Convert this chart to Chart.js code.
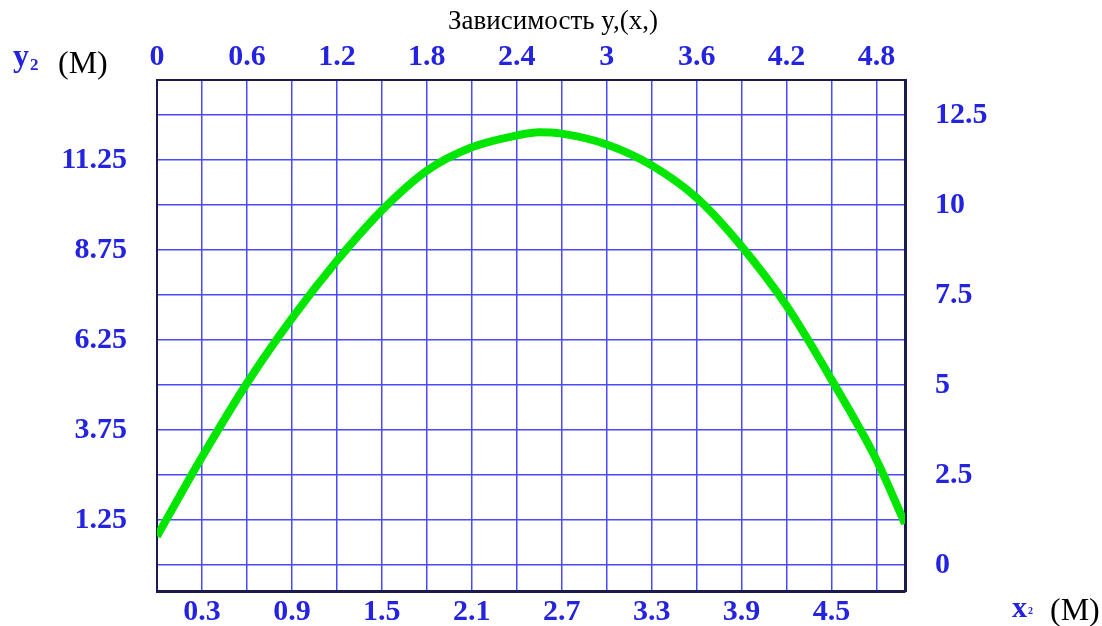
<!DOCTYPE html>
<html>
<head>
<meta charset="utf-8">
<script src="https://cdn.jsdelivr.net/npm/chart.js@4"></script>
<style>
  html, body { margin: 0; padding: 0; background: #ffffff; }
  #wrap { width: 1102px; height: 626px; position: relative; }
</style>
</head>
<body>
<div id="wrap"><canvas id="c"></canvas></div>
<script>
// ---- data ----
const xValues = [0, 0.3, 0.6, 0.9, 1.2, 1.5, 1.8, 2.1, 2.4, 2.55, 2.7, 3.0, 3.3, 3.6, 3.9, 4.2, 4.5, 4.8, 4.99];
const yValues = [0.8, 3.0, 5.05, 6.85, 8.45, 9.85, 10.95, 11.6, 11.93, 12.02, 11.98, 11.68, 11.1, 10.2, 8.85, 7.2, 5.15, 2.92, 1.15];

const xGridTicks   = [0, 0.3, 0.6, 0.9, 1.2, 1.5, 1.8, 2.1, 2.4, 2.7, 3.0, 3.3, 3.6, 3.9, 4.2, 4.5, 4.8];
const xBottomLabels = [0.3, 0.9, 1.5, 2.1, 2.7, 3.3, 3.9, 4.5];
const xTopLabels    = [0, 0.6, 1.2, 1.8, 2.4, 3, 3.6, 4.2, 4.8];
const yGridTicks   = [0, 1.25, 2.5, 3.75, 5, 6.25, 7.5, 8.75, 10, 11.25, 12.5];
const yLeftLabels  = [1.25, 3.75, 6.25, 8.75, 11.25];
const yRightLabels = [0, 2.5, 5, 7.5, 10, 12.5];

const titleText = 'Зависимость y,(x,)';
const yAxisName = 'y';
const yAxisSub = '2';
const xAxisName = 'x';
const xAxisSub = '2';
const unitText = '(M)';

// ---- styling ----
const tickBlue = '#2323e0';
const gridBlue = '#4a4aff';
const borderDark = '#1b1b4d';
const tickFont = { family: '"Liberation Serif", serif', size: 30, weight: 'bold' };

const points = xValues.map((x, i) => ({ x: x, y: yValues[i] }));

function setTicks(list) {
  return function (scale) { scale.ticks = list.map(v => ({ value: v })); };
}
function fixSize(prop, size) {
  return function (s) {
    s[prop] = size;
    s.paddingTop = 0; s.paddingBottom = 0; s.paddingLeft = 0; s.paddingRight = 0;
  };
}

const textPlugin = {
  id: 'extraTexts',
  afterDraw(chart) {
    const ctx = chart.ctx;
    ctx.save();
    ctx.textBaseline = 'alphabetic';
    // title
    ctx.fillStyle = '#000';
    ctx.font = '27px "Liberation Serif", serif';
    ctx.textAlign = 'center';
    ctx.fillText(titleText, 553, 29);
    // y axis name
    ctx.textAlign = 'left';
    ctx.fillStyle = tickBlue;
    ctx.font = 'bold 32px "Liberation Serif", serif';
    ctx.fillText(yAxisName, 13, 66);
    ctx.font = 'bold 17px "Liberation Serif", serif';
    ctx.fillText(yAxisSub, 30, 70);
    ctx.fillStyle = '#000';
    ctx.font = '32px "Liberation Serif", serif';
    ctx.fillText(unitText, 58, 73);
    // x axis name
    ctx.fillStyle = tickBlue;
    ctx.font = 'bold 30px "Liberation Serif", serif';
    ctx.fillText(xAxisName, 1012, 617);
    ctx.font = 'bold 10px "Liberation Serif", serif';
    ctx.fillText(xAxisSub, 1028, 614);
    ctx.fillStyle = '#000';
    ctx.font = '32px "Liberation Serif", serif';
    ctx.fillText(unitText, 1050, 620);
    ctx.restore();
  }
};

new Chart(document.getElementById('c'), {
  type: 'line',
  data: {
    datasets: [{
      data: points,
      borderColor: '#00e600',
      borderWidth: 8,
      pointRadius: 0,
      cubicInterpolationMode: 'monotone',
      fill: false,
      xAxisID: 'x',
      yAxisID: 'y'
    }]
  },
  options: {
    responsive: true,
    maintainAspectRatio: false,
    animation: false,
    layout: { padding: 0, autoPadding: false },
    plugins: { legend: { display: false }, tooltip: { enabled: false }, title: { display: false } },
    scales: {
      x: {
        type: 'linear', position: 'bottom', min: 0, max: 4.99,
        afterBuildTicks: setTicks(xGridTicks),
        afterFit: fixSize('height', 35),
        grid: { color: gridBlue, lineWidth: 1.5, drawTicks: false },
        border: { display: true, color: borderDark, width: 3 },
        ticks: {
          color: tickBlue, font: tickFont, padding: 3, maxRotation: 0, autoSkip: false,
          callback: v => (xBottomLabels.includes(v) ? String(v) : '')
        }
      },
      x2: {
        type: 'linear', position: 'top', min: 0, max: 4.99,
        afterBuildTicks: setTicks(xTopLabels),
        afterFit: fixSize('height', 80),
        grid: { display: false, drawTicks: false },
        border: { display: true, color: borderDark, width: 2 },
        ticks: { color: tickBlue, font: tickFont, padding: 5, maxRotation: 0, autoSkip: false,
          callback: v => String(v) }
      },
      y: {
        type: 'linear', position: 'left', min: -0.72, max: 13.47,
        afterBuildTicks: setTicks(yGridTicks),
        afterFit: fixSize('width', 157),
        grid: { color: gridBlue, lineWidth: 1.5, drawTicks: false },
        border: { display: true, color: borderDark, width: 2 },
        ticks: { color: tickBlue, font: tickFont, padding: 30, autoSkip: false,
          callback: v => (yLeftLabels.includes(v) ? String(v) : '') }
      },
      y2: {
        type: 'linear', position: 'right', min: -0.72, max: 13.47,
        afterBuildTicks: setTicks(yRightLabels),
        afterFit: fixSize('width', 197),
        grid: { display: false, drawTicks: false },
        border: { display: true, color: borderDark, width: 3 },
        ticks: { color: tickBlue, font: tickFont, padding: 30, autoSkip: false,
          callback: v => String(v) }
      }
    }
  },
  plugins: [textPlugin]
});
</script>
</body>
</html>
